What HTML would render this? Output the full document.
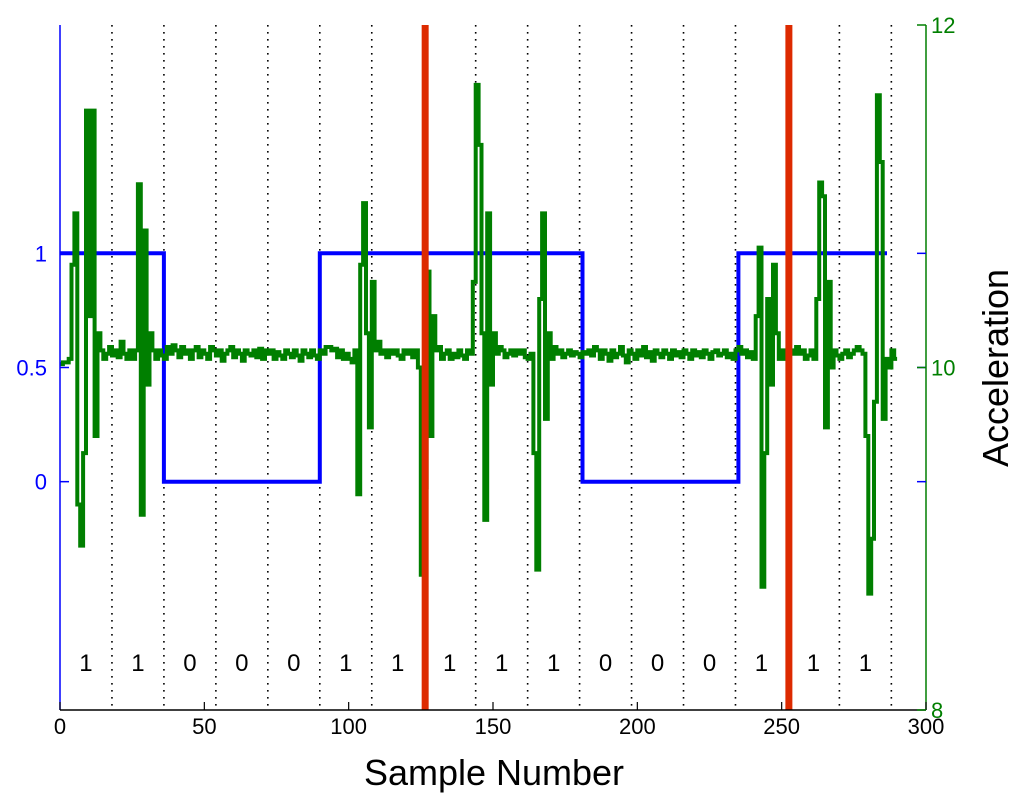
<!DOCTYPE html>
<html><head><meta charset="utf-8"><style>
html,body{margin:0;padding:0;background:#fff;}
svg{display:block;font-family:"Liberation Sans",Arial,sans-serif;}
</style></head><body>
<svg id="chart" width="1024" height="810" viewBox="0 0 1024 810" xmlns="http://www.w3.org/2000/svg">
<g id="grid"></g>
<g id="marks"></g>
<g id="axes"></g>
<text x="494" y="785" font-size="36" text-anchor="middle">Sample Number</text>
<text x="0" y="0" font-size="36" text-anchor="middle" transform="translate(1008,368) rotate(-90)">Acceleration</text>
</svg>
<script>
const xTicks=[0,50,100,150,200,250,300];
const leftTicks=[0,0.5,1];
const leftTickLabels=["0","0.5","1"];
const rightTicks=[8,10,12];
const bitLabels=["1","1","0","0","0","1","1","1","1","1","0","0","0","1","1","1"];
const bitBoundaries=[18,36,54,72,90,108,126,144,162,180,198,216,234,252,270,288];
const redLines=[126.5,252.5];
const blueStarts=[0,36,90,181,235];
const blueValues=[1,0,1,0,1];
const blueEnd=286.5;
const accel=[
10.02,10.03,10.03,10.05,10.6,10.9,9.2,8.96,9.5,11.5,
10.3,11.5,9.6,10.2,10.1,10.05,10.08,10.12,10.07,10.1,
10.06,10.15,10.08,10.05,10.1,10.05,10.1,11.07,9.14,10.8,
9.9,10.2,10.1,10.05,10.1,10.07,10.05,10.12,10.08,10.13,
10.1,10.06,10.12,10.08,10.1,10.05,10.1,10.12,10.06,10.1,
10.08,10.05,10.12,10.1,10.07,10.1,10.04,10.08,10.1,10.12,
10.06,10.1,10.08,10.04,10.1,10.08,10.07,10.1,10.06,10.11,
10.05,10.1,10.08,10.1,10.05,10.09,10.07,10.05,10.1,10.08,
10.06,10.1,10.07,10.04,10.1,10.08,10.06,10.1,10.07,10.05,
10.1,10.08,10.12,10.12,10.1,10.11,10.06,10.1,10.05,10.08,
10.05,10.03,10.1,9.26,10.6,10.96,10.2,9.65,10.5,10.1,
10.15,10.08,10.1,10.06,10.1,10.08,10.1,10.07,10.05,10.1,
10.08,10.1,10.06,10.1,10.0,8.79,9.3,10.56,9.6,10.3,
10.1,10.12,10.05,10.08,10.1,10.05,10.08,10.06,10.1,10.07,
10.05,10.1,10.08,10.5,11.65,11.3,10.2,9.11,10.9,9.9,
10.2,10.08,10.12,10.1,10.06,10.08,10.1,10.07,10.1,10.08,
10.1,10.06,10.05,10.08,9.5,8.82,10.4,10.9,9.7,10.2,
10.05,10.12,10.08,10.1,10.06,10.08,10.1,10.07,10.09,10.08,
10.06,10.09,10.08,10.1,10.07,10.12,10.1,10.05,10.1,10.08,
10.04,10.1,10.06,10.08,10.12,10.07,10.03,10.1,10.08,10.05,
10.1,10.07,10.12,10.06,10.09,10.04,10.1,10.08,10.06,10.1,
10.08,10.05,10.1,10.07,10.09,10.06,10.1,10.08,10.05,10.1,
10.07,10.09,10.06,10.1,10.08,10.05,10.09,10.1,10.07,10.08,
10.1,10.06,10.08,10.05,10.1,10.12,10.08,10.1,10.06,10.09,
10.05,10.3,10.7,8.72,9.5,10.4,9.9,10.6,10.2,10.05,
10.1,10.05,10.08,10.1,10.08,10.12,10.08,10.1,10.05,10.07,
10.1,10.05,10.4,11.08,11.0,9.65,10.5,10.0,10.1,10.07,
10.05,10.08,10.1,10.06,10.08,10.1,10.12,10.1,10.08,9.6,
8.68,9.0,9.8,11.59,11.2,9.7,10.05,10.0,10.1,10.05];

const NS="http://www.w3.org/2000/svg";
const L=60,R=926,T=25,B=710;
const xs=v=>L+(v/300)*(R-L);
const yl=v=>B-(v+1)/3*(B-T);
const yr=v=>B-(v-8)/4*(B-T);
function mk(tag,attrs,parent){const e=document.createElementNS(NS,tag);for(const k in attrs)e.setAttribute(k,attrs[k]);parent.appendChild(e);return e;}
const grid=document.getElementById('grid'),marks=document.getElementById('marks'),axes=document.getElementById('axes');

bitBoundaries.forEach(b=>{
  const ln=mk('line',{x1:xs(b),x2:xs(b),y1:T,y2:B,stroke:'#000','stroke-width':1.6,'stroke-dasharray':'1.6 5.4'},grid);
  
  
});
bitLabels.forEach((t,i)=>{
  const tx=mk('text',{x:xs(9+18*i),y:671,'font-size':24,'text-anchor':'middle',fill:'#000'},grid);
  tx.textContent=t;
  
  
});

let bp=[];
blueStarts.forEach((s,i)=>{const e=i<blueStarts.length-1?blueStarts[i+1]:blueEnd;const y=yl(blueValues[i]);bp.push([xs(s),y],[xs(e),y]);});
const blue=mk('path',{d:'M'+bp.map(p=>p[0].toFixed(1)+','+p[1].toFixed(1)).join(' L'),fill:'none',stroke:'#0000ff','stroke-width':4},marks);



let d='';
accel.forEach((v,i)=>{const x=xs(i),y=yr(v);d+=(i===0?'M':' L')+x.toFixed(1)+','+y.toFixed(1)+' L'+xs(i+1).toFixed(1)+','+y.toFixed(1);});
const green=mk('path',{d:d,fill:'none',stroke:'#007f00','stroke-width':4},marks);



redLines.forEach(r=>{
  const ln=mk('line',{x1:xs(r),x2:xs(r),y1:T,y2:B,stroke:'#dd2a00','stroke-width':7},marks);
  
  
});

const la=mk('line',{x1:L,x2:L,y1:T,y2:B,stroke:'#0000ff','stroke-width':1.5},axes);


const ra=mk('line',{x1:R,x2:R,y1:T,y2:B,stroke:'#007f00','stroke-width':1.5},axes);


const ba=mk('line',{x1:L,x2:R,y1:B,y2:B,stroke:'#000','stroke-width':1.5},axes);


xTicks.forEach(t=>{
  mk('line',{x1:xs(t),x2:xs(t),y1:B,y2:B-8,stroke:'#000','stroke-width':1.2},axes);
  const tx=mk('text',{x:xs(t),y:B+24,'font-size':22,'text-anchor':'middle',fill:'#000'},axes);
  tx.textContent=t;
  
  
});
leftTicks.forEach((t,i)=>{
  mk('line',{x1:L,x2:L+9,y1:yl(t),y2:yl(t),stroke:'#0000ff','stroke-width':1.5},axes);
  mk('line',{x1:R-9,x2:R,y1:yl(t),y2:yl(t),stroke:'#0000ff','stroke-width':1.5},axes);
  const tx=mk('text',{x:47,y:yl(t)+8,'font-size':22,'text-anchor':'end',fill:'#0000ff'},axes);
  tx.textContent=leftTickLabels[i];
  
  
});
rightTicks.forEach(t=>{
  mk('line',{x1:R-9,x2:R,y1:yr(t),y2:yr(t),stroke:'#007f00','stroke-width':1.5},axes);
  const tx=mk('text',{x:R+5,y:yr(t)+8,'font-size':22,'text-anchor':'start',fill:'#007f00'},axes);
  tx.textContent=t;
  
  
});
</script>
</body></html>
